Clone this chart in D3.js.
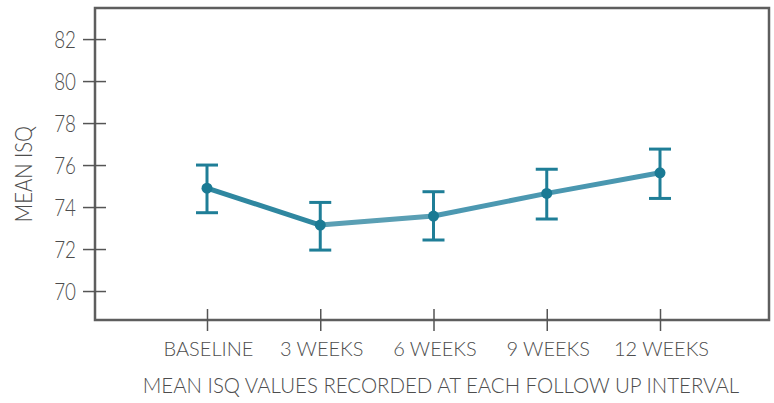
<!DOCTYPE html>
<html>
<head>
<meta charset="utf-8">
<script src="https://cdn.jsdelivr.net/npm/d3@7"></script>
<style>
  body { margin: 0; background: #fff; }
  text { font-family: Lato, "Open Sans", sans-serif; font-weight: 300; fill: #4d4d4d; }
</style>
</head>
<body>
<svg id="chart" width="774" height="403"></svg>
<script>
// data
var categories = ["BASELINE", "3 WEEKS", "6 WEEKS", "9 WEEKS", "12 WEEKS"];
var meanISQ = [74.9, 73.14, 73.57, 74.65, 75.63];
var lowerISQ = [73.73, 71.95, 72.43, 73.43, 74.41];
var upperISQ = [76.0, 74.22, 74.73, 75.8, 76.76];
var yTicks = [70, 72, 74, 76, 78, 80, 82];
var xTitle = "MEAN ISQ VALUES RECORDED AT EACH FOLLOW UP INTERVAL";
var yTitle = "MEAN ISQ";

var frame = {left: 95, top: 8, right: 769, bottom: 320};

var svg = d3.select("#chart");

// scales
var x = d3.scalePoint()
  .domain(categories)
  .range([207, 660]);

var y = d3.scaleLinear()
  .domain([68.62, 83.48])
  .range([frame.bottom, frame.top]);

var data = categories.map(function(c, i) {
  return {cat: c, mean: meanISQ[i], lo: lowerISQ[i], hi: upperISQ[i]};
});

// squeeze a text node to a share of its natural width (the original face is condensed)
function condense(sel, k) {
  sel.each(function() {
    var w = this.getComputedTextLength();
    d3.select(this)
      .attr("textLength", w * k)
      .attr("lengthAdjust", "spacingAndGlyphs");
  });
}

// frame
svg.append("rect")
  .attr("x", frame.left)
  .attr("y", frame.top)
  .attr("width", frame.right - frame.left)
  .attr("height", frame.bottom - frame.top)
  .attr("fill", "none")
  .attr("stroke", "#5e5e5e")
  .attr("stroke-width", 2.5);

// y axis: ticks crossing the frame line
var yAxis = d3.axisLeft(y)
  .tickValues(yTicks)
  .tickSizeOuter(0);

var gy = svg.append("g")
  .attr("transform", "translate(" + frame.left + ",0)")
  .call(yAxis);
gy.select(".domain").remove();
gy.selectAll(".tick line")
  .attr("x1", -12).attr("x2", 11)
  .attr("stroke", "#555").attr("stroke-width", 1.5);
gy.selectAll(".tick text")
  .attr("x", -19)
  .attr("dy", "0.36em")
  .style("font-size", "23.5px")
  .attr("fill", "#4d4d4d")
  .call(condense, 0.8);

// x axis
var xAxis = d3.axisBottom(x)
  .tickSizeOuter(0);

var gx = svg.append("g")
  .attr("transform", "translate(0," + frame.bottom + ")")
  .call(xAxis);
gx.select(".domain").remove();
gx.selectAll(".tick line")
  .attr("y1", -11).attr("y2", 11)
  .attr("stroke", "#555").attr("stroke-width", 1.5);
gx.selectAll(".tick text")
  .attr("x", 1)
  .attr("y", 36)
  .attr("dy", null)
  .style("font-size", "20px")
  .attr("fill", "#4d4d4d")
  .call(condense, 1.0);

// axis titles
svg.append("text")
  .attr("x", 441)
  .attr("y", 393)
  .attr("text-anchor", "middle")
  .style("font-size", "21.5px")
  .text(xTitle)
  .call(condense, 0.95);

svg.append("text")
  .attr("transform", "translate(32,174) rotate(-90)")
  .attr("text-anchor", "middle")
  .style("font-size", "23px")
  .text(yTitle)
  .call(condense, 0.88);

// mean line, one segment at a time
var line = d3.line()
  .x(function(d) { return x(d.cat); })
  .y(function(d) { return y(d.mean); });

var segColors = ["#2f87a0", "#5a9fb4", "#4c98b1", "#4a97b0"];
for (var i = 0; i < data.length - 1; i++) {
  svg.append("path")
    .datum([data[i], data[i + 1]])
    .attr("d", line)
    .attr("fill", "none")
    .attr("stroke", segColors[i])
    .attr("stroke-width", 5)
    .attr("stroke-linecap", "butt");
}

// error bars
var capW = 11;
var bars = svg.append("g").attr("class", "errbars")
  .selectAll("g")
  .data(data)
  .enter().append("g")
  .attr("stroke", "#1f7e97")
  .attr("stroke-width", 3);

bars.append("line")
  .attr("x1", function(d) { return x(d.cat); })
  .attr("x2", function(d) { return x(d.cat); })
  .attr("y1", function(d) { return y(d.hi); })
  .attr("y2", function(d) { return y(d.lo); });

bars.append("line")
  .attr("x1", function(d) { return x(d.cat) - capW; })
  .attr("x2", function(d) { return x(d.cat) + capW; })
  .attr("y1", function(d) { return y(d.hi); })
  .attr("y2", function(d) { return y(d.hi); });

bars.append("line")
  .attr("x1", function(d) { return x(d.cat) - capW; })
  .attr("x2", function(d) { return x(d.cat) + capW; })
  .attr("y1", function(d) { return y(d.lo); })
  .attr("y2", function(d) { return y(d.lo); });

// points
svg.selectAll(".dot")
  .data(data)
  .enter().append("circle")
  .attr("class", "dot")
  .attr("r", 5.5)
  .attr("cx", function(d) { return x(d.cat); })
  .attr("cy", function(d) { return y(d.mean); })
  .attr("fill", "#1a7a94");
</script>
</body>
</html>
